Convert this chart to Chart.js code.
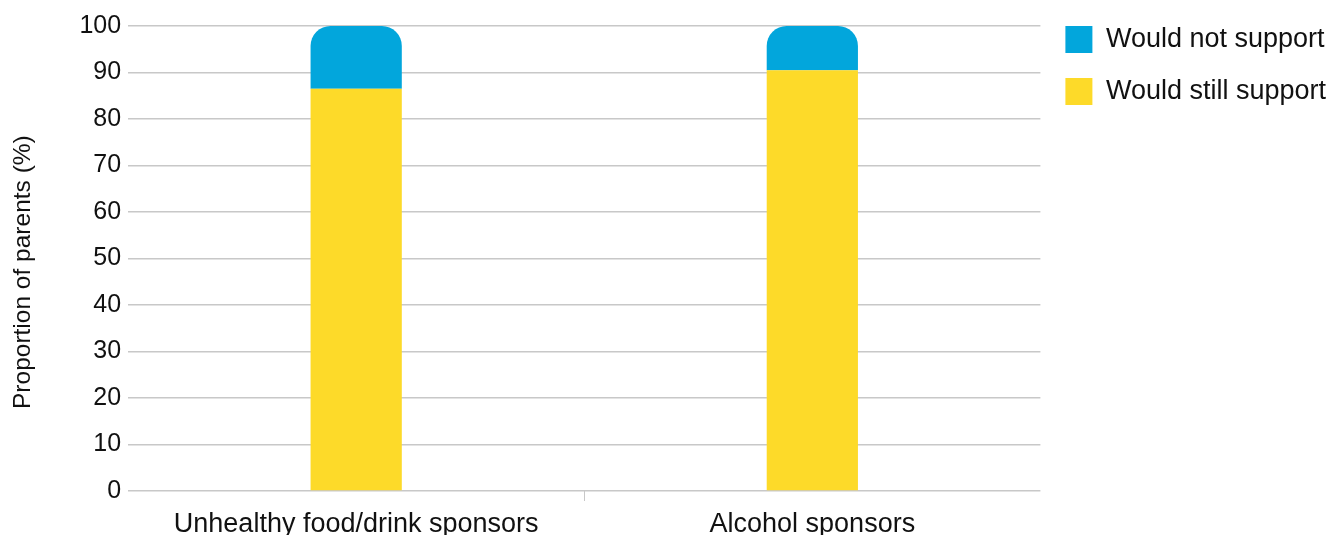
<!DOCTYPE html>
<html>
<head>
<meta charset="utf-8">
<script src="https://cdn.jsdelivr.net/npm/chart.js@4"></script>
<style>
  html, body { margin: 0; padding: 0; background: #fff; }
  #wrap { position: relative; width: 1331px; height: 535px; }
</style>
</head>
<body>
<div id="wrap"><canvas id="chart"></canvas></div>
<script>
const categories = ['Unhealthy food/drink sponsors', 'Alcohol sponsors'];
const stillSupport = [86.5, 90.5];
const notSupport = [13.5, 9.5];
const yTicks = [0, 10, 20, 30, 40, 50, 60, 70, 80, 90, 100];

const font = 'Liberation Sans, Arial, Helvetica, sans-serif';
const gridColor = '#c8c8c8';

new Chart(document.getElementById('chart'), {
  type: 'bar',
  data: {
    labels: categories,
    datasets: [
      {
        label: 'Would still support',
        data: stillSupport,
        backgroundColor: '#fdda29',
        barPercentage: 0.4,
        categoryPercentage: 0.5,
      },
      {
        label: 'Would not support',
        data: notSupport,
        backgroundColor: '#02a6dc',
        borderRadius: { topLeft: 20, topRight: 20, bottomLeft: 0, bottomRight: 0 },
        borderSkipped: false,
        barPercentage: 0.4,
        categoryPercentage: 0.5,
      },
    ],
  },
  options: {
    responsive: true,
    maintainAspectRatio: false,
    animation: false,
    layout: { padding: { left: 8, top: 1, right: -5, bottom: -13 } },
    plugins: {
      tooltip: { enabled: false },
      legend: {
        position: 'right',
        align: 'start',
        reverse: true,
        labels: {
          boxWidth: 27,
          boxHeight: 27,
          padding: 25,
          color: '#111',
          font: { family: font, size: 27 },
        },
      },
    },
    scales: {
      x: {
        stacked: true,
        border: { display: false },
        grid: {
          drawOnChartArea: false,
          drawTicks: true,
          tickLength: 10,
          color: (ctx) => (ctx.index === 1 ? gridColor : 'rgba(0,0,0,0)'),
        },
        ticks: { color: '#111', font: { family: font, size: 27, lineHeight: 1 }, padding: 10 },
      },
      y: {
        stacked: true,
        min: 0,
        max: 100,
        afterBuildTicks: (axis) => { axis.ticks = yTicks.map((v) => ({ value: v })); },
        afterFit: (axis) => { axis.paddingTop = 26; },
        border: { display: false },
        grid: { color: gridColor, lineWidth: 1.5, drawTicks: false },
        ticks: { color: '#111', font: { family: font, size: 25 }, padding: 7 },
        title: {
          display: true,
          // trailing spaces nudge the rotated title down a little, like the original
          text: 'Proportion of parents (%)\u00a0\u00a0\u00a0\u00a0',
          color: '#111',
          font: { family: font, size: 24.5 },
          padding: { top: 1, bottom: 34 },
        },
      },
    },
  },
});
</script>
</body>
</html>
